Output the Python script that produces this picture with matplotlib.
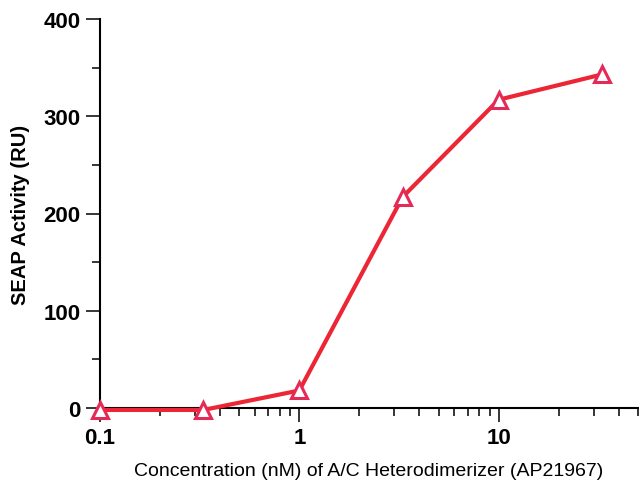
import matplotlib.pyplot as plt
from matplotlib.ticker import FixedLocator, LogLocator, NullFormatter

plt.rcParams['font.family'] = ['Liberation Sans', 'DejaVu Sans']

# concentration (nM) and SEAP activity (RU)
conc = [0.1, 0.33, 1, 3.3, 10, 33]
seap = [-2, -2, 18, 217, 317, 343]
xticks = [0.1, 1, 10]
xticklabels = ['0.1', '1', '10']
yticks = [0, 100, 200, 300, 400]

fig = plt.figure(figsize=(6.39, 4.89), dpi=100)
ax = fig.add_axes([100 / 639, 80 / 489, 538 / 639, 389 / 489])

ax.plot(conc, seap, color='#ec2634', linewidth=3, zorder=3, clip_on=False)
ax.plot(conc, seap, linestyle='none', marker='^', markersize=12,
        markerfacecolor='white', markeredgecolor='#e62a57',
        markeredgewidth=2.2, zorder=4, clip_on=False)

ax.set_xscale('log')
ax.set_xlim(0.1, 50)
ax.set_ylim(0, 400)

ax.set_xticks(xticks)
ax.set_xticklabels(xticklabels)
ax.xaxis.set_minor_locator(LogLocator(base=10, subs=range(2, 10)))
ax.xaxis.set_minor_formatter(NullFormatter())
ax.set_yticks(yticks)
ax.yaxis.set_minor_locator(FixedLocator([50, 150, 250, 350]))

for s in ['top', 'right']:
    ax.spines[s].set_visible(False)
for s in ['left', 'bottom']:
    ax.spines[s].set_linewidth(1.5)

ax.tick_params(which='major', length=10, width=1.1, labelsize=16, pad=4)
ax.tick_params(which='minor', length=6, width=1.1)
for lab in ax.get_xticklabels() + ax.get_yticklabels():
    lab.set_fontweight('bold')

ax.set_ylabel('SEAP Activity (RU)', fontsize=14.5, fontweight='bold', labelpad=10)
ax.set_xlabel('Concentration (nM) of A/C Heterodimerizer (AP21967)', fontsize=14, labelpad=10)

plt.savefig('out.png', dpi=100)
plt.close()
